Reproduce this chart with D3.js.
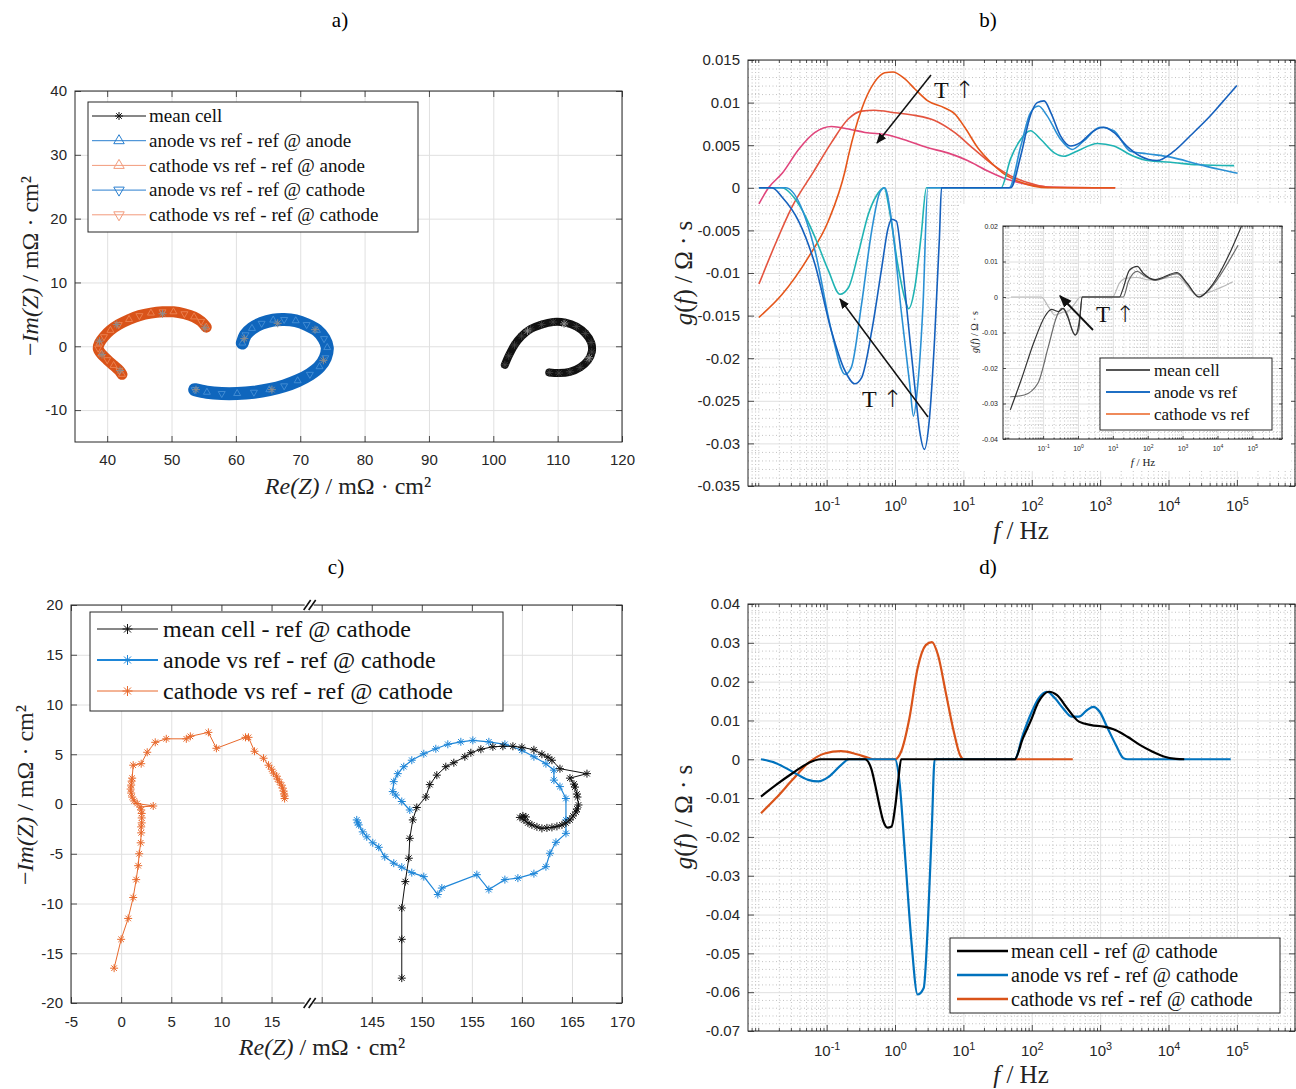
<!DOCTYPE html>
<html>
<head>
<meta charset="utf-8">
<script src="https://cdn.jsdelivr.net/npm/d3@7"></script>
<style>
body { margin: 0; background: #fff; }
</style>
</head>
<body>
<div id="chart"></div>
<script>
// ---------- panel a: Nyquist arcs (Re, -Im) in mOhm cm2 ----------
var aCathode = [[55.4,3.0],[54.6,3.9],[53.5,4.6],[52.0,5.1],[50.3,5.4],[48.6,5.4],[46.8,5.2],[45.0,4.8],[43.4,4.2],[41.8,3.4],[40.5,2.5],[39.5,1.5],[38.8,0.5],[38.6,-0.3],[39.1,-1.2],[40.0,-2.1],[41.0,-3.0],[41.9,-3.8],[42.3,-4.4]];
var aAnode = [[61.0,0.5],[61.5,1.8],[62.5,2.8],[64.0,3.6],[65.8,4.1],[67.5,4.2],[69.3,4.0],[71.0,3.4],[72.6,2.5],[73.7,1.2],[74.2,-0.2],[73.9,-1.8],[73.0,-3.2],[71.5,-4.4],[69.6,-5.4],[67.5,-6.2],[65.2,-6.8],[62.8,-7.2],[60.2,-7.4],[57.8,-7.4],[55.5,-7.2],[53.6,-6.8]];
var aMean = [[101.8,-2.9],[102.4,-1.5],[103.3,0.2],[104.4,1.6],[105.8,2.7],[107.5,3.4],[109.3,3.8],[111.2,3.7],[112.9,3.1],[114.3,2.0],[115.2,0.6],[115.3,-0.9],[114.7,-2.2],[113.5,-3.3],[111.9,-4.0],[110.2,-4.2],[108.7,-4.1]];
var aStars = [[55.2,2.9],[48.6,5.1],[41.5,3.4],[38.8,0.8],[39.2,-1.3],[42.0,-3.8],[61.3,1.2],[66.5,3.6],[72.3,2.6],[73.6,-2.2],[65.6,-6.8],[53.8,-6.8],[105.3,2.4],[111.0,3.5],[114.9,-1.8]];
var aXTicks = [40,50,60,70,80,90,100,110,120];
var aYTicks = [-10,0,10,20,30,40];
var aLegend = ["mean cell","anode vs ref - ref @ anode","cathode vs ref - ref @ anode","anode vs ref - ref @ cathode","cathode vs ref - ref @ cathode"];

// ---------- panel b: DRT, log10(f) and g(f) ----------
var bOrangeF = [-1.99,-1.65,-1.27,-0.975,-0.73,-0.68,-0.49,-0.3,-0.15,-0.03,0.14,0.29,0.48,0.72,0.87,1.02,1.21,1.4,1.6,1.79,2.03,2.23,3.22];
var bOrangeG = [-0.0152,-0.0125,-0.0082,-0.0039,0.002,0.0038,0.0092,0.0124,0.0135,0.0136,0.0128,0.0116,0.0102,0.0094,0.0087,0.0071,0.0047,0.003,0.0016,0.0008,0.0002,0,0];
var bRedF = [-1.99,-1.75,-1.51,-1.19,-0.93,-0.68,-0.49,-0.3,0,0.29,0.58,0.87,1.16,1.45,1.74,2.03,2.23,3.22];
var bRedG = [-0.0113,-0.0066,-0.0023,0.0019,0.0053,0.0081,0.009,0.0091,0.0088,0.0085,0.0079,0.0065,0.0045,0.0026,0.0012,0.0004,0.0001,0];
var bPinkF = [-1.99,-1.85,-1.65,-1.41,-1.17,-0.93,-0.68,-0.44,-0.1,0.19,0.48,0.77,1.06,1.35,1.64,1.94,2.23,3.22];
var bPinkG = [-0.0019,0,0.0017,0.0045,0.0065,0.0072,0.0069,0.0065,0.0062,0.0055,0.0047,0.0041,0.0032,0.002,0.001,0.0004,0.0001,0];
var bTealF = [-1.99,-1.66,-1.41,-1.17,-0.975,-0.805,-0.68,-0.54,-0.39,-0.27,-0.16,-0.08,0.04,0.14,0.2,0.29,0.38,0.46,1.55,1.69,1.84,1.98,2.13,2.33,2.47,2.66,2.96,3.2,3.49,3.69,4.03,4.42,4.96];
var bTealG = [0,0,-0.0019,-0.0058,-0.0097,-0.0125,-0.0117,-0.0078,-0.0031,-0.0009,0,-0.0027,-0.009,-0.0129,-0.0142,-0.0117,-0.0058,0,0,0.0034,0.0057,0.0067,0.0057,0.0041,0.0037,0.0043,0.0052,0.0049,0.0037,0.0032,0.003,0.0027,0.0026];
var bBlueF = [-1.99,-1.6,-1.17,-0.93,-0.73,-0.64,-0.49,-0.34,-0.22,-0.15,-0.05,0.09,0.22,0.27,0.33,0.41,0.48,1.67,1.84,1.98,2.1,2.22,2.42,2.59,2.76,3.0,3.2,3.44,3.68,4.03,4.42,4.72,5.01];
var bBlueG = [0,0,-0.0074,-0.0168,-0.0219,-0.0211,-0.0137,-0.005,-0.0005,0,-0.0039,-0.0144,-0.0234,-0.0268,-0.0234,-0.0137,0,0,0.0049,0.0088,0.0096,0.0085,0.0057,0.0045,0.0055,0.0071,0.0067,0.0043,0.004,0.0036,0.0028,0.0022,0.0017];
var bDarkF = [-1.99,-1.8,-1.65,-1.41,-1.17,-0.93,-0.73,-0.59,-0.49,-0.34,-0.2,-0.1,-0.05,0.02,0.09,0.19,0.29,0.36,0.43,0.5,0.58,0.65,0.68,1.69,1.84,1.98,2.08,2.18,2.28,2.42,2.57,2.71,2.91,3.05,3.2,3.39,3.59,3.83,4.08,4.33,4.57,4.75,5.0];
var bDarkG = [0,0,-0.0011,-0.0039,-0.009,-0.0168,-0.0215,-0.023,-0.0223,-0.0168,-0.0097,-0.0047,-0.0037,-0.0039,-0.0078,-0.0156,-0.0234,-0.0285,-0.0307,-0.0274,-0.0176,-0.0058,0,0,0.0038,0.0085,0.01,0.0102,0.0088,0.0061,0.0049,0.0053,0.0067,0.0071,0.0065,0.0049,0.0037,0.0032,0.0043,0.0062,0.0081,0.0097,0.012];
var bYTicks = [-0.035,-0.03,-0.025,-0.02,-0.015,-0.01,-0.005,0,0.005,0.01,0.015];

// inset of panel b
var iLightF = [-1.92,-1.05,-0.85,-0.66,-0.47,-0.27,-0.1,0.07,0.99,1.19,1.38,1.67,2.06,2.84,3.42,4.1,4.44];
var iLightG = [0,0,-0.0027,-0.0051,-0.0044,-0.0039,-0.002,0,0,0.0039,0.0053,0.0055,0.0048,0.0057,0.0006,0.0027,0.0043];
var iDarkAF = [-1.94,-1.63,-1.24,-0.95,-0.76,-0.56,-0.42,-0.3,-0.08,0.05,0.12,1.19,1.28,1.48,1.7,1.87,2.21,2.84,3.13,3.47,3.81,4.0,4.39,4.69];
var iDarkAG = [-0.0318,-0.0234,-0.0121,-0.0055,-0.0035,-0.0041,-0.0032,-0.0055,-0.0107,-0.006,0,0,0.002,0.0076,0.0086,0.0067,0.0049,0.0069,0.0039,0,0.0029,0.0057,0.0132,0.02];
var iDarkBF = [-1.94,-1.54,-1.15,-0.85,-0.61,-0.47,-0.32,-0.17,-0.08,0.02,0.12,1.3,1.45,1.7,1.9,2.21,2.84,3.13,3.47,3.81,4.0,4.59];
var iDarkBG = [-0.0281,-0.0276,-0.0243,-0.014,-0.0055,-0.0032,-0.0046,-0.0093,-0.0107,-0.0093,0,0,0.0045,0.0072,0.006,0.0047,0.0066,0.0037,0,0.0026,0.005,0.0146];
var iYTicks = [-0.04,-0.03,-0.02,-0.01,0,0.01,0.02];
var iLegend = ["mean cell","anode vs ref","cathode vs ref"];

// ---------- panel c: Nyquist, broken Re axis ----------
var cCathode = [[-0.7,-16.5],[0.0,-13.6],[0.7,-11.5],[1.2,-9.4],[1.5,-7.6],[1.7,-6.2],[1.8,-5.0],[1.95,-3.9],[2.0,-2.9],[2.0,-2.3],[2.05,-1.9],[2.05,-1.4],[2.05,-0.95],[2.0,-0.6],[1.9,-0.3],[3.2,-0.2],[1.6,0.05],[1.3,0.3],[1.1,0.7],[1.0,1.1],[0.95,1.5],[1.0,1.9],[1.05,2.3],[1.1,2.6],[1.2,3.9],[2.0,4.05],[2.6,5.2],[3.4,6.2],[4.5,6.55],[6.5,6.55],[6.9,6.8],[8.7,7.2],[9.5,5.6],[12.4,6.7],[12.7,6.7],[13.3,5.3],[14.2,4.6],[14.7,3.9],[15.0,3.5],[15.2,3.1],[15.5,2.8],[15.6,2.5],[15.8,2.2],[16.0,1.9],[16.1,1.6],[16.2,1.3],[16.25,1.0],[16.3,0.8],[16.3,0.55]];
var cMean = [[148.0,-17.5],[148.0,-13.6],[148.0,-10.45],[148.35,-7.8],[148.7,-5.45],[148.8,-3.45],[149.1,-1.6],[149.5,-0.35],[150.4,0.7],[150.8,1.95],[151.5,2.9],[152.4,3.75],[153.2,4.15],[154.3,4.75],[154.9,5.15],[155.9,5.5],[157.1,5.75],[158.1,5.8],[159.1,5.8],[160.0,5.7],[161.2,5.45],[162.0,5.0],[162.6,4.7],[163.0,4.4],[163.8,3.55],[166.5,3.05],[164.8,2.6],[165.2,2.0],[165.3,1.7],[165.5,1.0],[165.55,0.7],[165.65,-0.1],[165.5,-0.5],[165.4,-0.8],[165.1,-1.2],[164.8,-1.6],[164.4,-1.9],[164.0,-2.1],[163.5,-2.25],[163.0,-2.35],[162.5,-2.4],[162.0,-2.45],[161.5,-2.3],[161.0,-2.1],[160.6,-1.9],[160.2,-1.6],[159.8,-1.35],[160.1,-1.2],[160.4,-1.3]];
var cAnode = [[143.5,-1.6],[143.6,-1.9],[143.7,-2.1],[144.1,-2.8],[144.5,-3.3],[145.1,-3.9],[145.7,-4.35],[146.3,-5.3],[147.2,-5.95],[148.0,-6.35],[149.0,-6.9],[150.2,-7.3],[151.6,-9.1],[152.0,-8.45],[155.5,-7.1],[156.7,-8.6],[158.3,-7.6],[159.6,-7.45],[161.2,-7.0],[162.4,-6.3],[162.8,-4.95],[163.4,-3.85],[164.4,-2.95],[164.4,-1.6],[164.4,0.55],[163.8,1.75],[163.2,2.4],[163.2,3.4],[162.4,4.05],[161.2,4.75],[160.0,5.4],[158.3,6.0],[156.7,6.25],[155.1,6.4],[153.9,6.25],[152.6,6.0],[151.4,5.55],[150.2,5.05],[149.0,4.4],[148.2,3.75],[147.6,3.05],[147.2,2.25],[147.1,1.25],[147.4,0.9],[148.0,0.25],[148.8,-0.6]];
var cXTicks = [-5,0,5,10,15,20,145,150,155,160,165,170];
var cYTicks = [-20,-15,-10,-5,0,5,10,15,20];
var cLegend = ["mean cell - ref @ cathode","anode vs ref - ref @ cathode","cathode vs ref - ref @ cathode"];

// ---------- panel d: DRT ----------
var dMeanF = [-1.96,-1.74,-1.5,-1.27,-1.09,-0.44,-0.35,-0.29,-0.23,-0.17,-0.11,-0.05,0.0,0.05,0.09,1.75,1.87,1.98,2.1,2.25,2.37,2.52,2.69,2.87,3.05,3.23,3.4,3.58,3.76,3.93,4.11,4.23];
var dMeanG = [-0.0096,-0.0066,-0.0036,-0.001,0,0,-0.0023,-0.0066,-0.0117,-0.016,-0.0176,-0.0173,-0.0126,-0.005,0,0,0.0054,0.0097,0.0148,0.0174,0.0165,0.0131,0.0097,0.0088,0.0084,0.0075,0.0058,0.0037,0.002,0.0007,0.0001,0];
var dAnodeF = [-1.96,-1.74,-1.5,-1.27,-1.12,-0.97,-0.79,-0.67,0.0,0.06,0.15,0.24,0.33,0.42,0.48,0.54,0.58,1.75,1.87,1.98,2.1,2.22,2.34,2.46,2.58,2.69,2.81,2.9,2.99,3.11,3.23,3.34,3.4,4.91];
var dAnodeG = [0,-0.001,-0.0032,-0.0053,-0.0057,-0.0045,-0.0015,0,0,-0.0049,-0.0255,-0.0469,-0.0606,-0.0589,-0.0426,-0.0169,0,0,0.0063,0.0114,0.0157,0.0174,0.0157,0.0131,0.011,0.011,0.0127,0.0135,0.0123,0.008,0.0037,0.0003,0,0];
var dCathodeF = [-1.96,-1.74,-1.5,-1.27,-1.03,-0.79,-0.56,-0.38,-0.32,0.0,0.09,0.21,0.33,0.45,0.54,0.63,0.74,0.86,0.95,1.01,2.6];
var dCathodeG = [-0.0139,-0.01,-0.0053,-0.001,0.0015,0.0021,0.0013,0.0003,0,0,0.002,0.0105,0.0234,0.0294,0.0302,0.0268,0.0174,0.0071,0.0011,0,0];
var dYTicks = [-0.07,-0.06,-0.05,-0.04,-0.03,-0.02,-0.01,0,0.01,0.02,0.03,0.04];
var dLegend = ["mean cell - ref @ cathode","anode vs ref - ref @ cathode","cathode vs ref - ref @ cathode"];

var logTicks = [-1,0,1,2,3,4,5];

// ---------------------------------------------------------------
var W = 1296, H = 1089;
var serif = '"Liberation Serif","DejaVu Serif",serif';
var sans = '"Liberation Sans",Arial,sans-serif';
var AX = "#262626", GRID = "#e0e0e0", MINOR = "#c2c2c2";

var svg = d3.select("#chart").append("svg").attr("width", W).attr("height", H);
svg.append("rect").attr("width", W).attr("height", H).attr("fill", "#fff");

function fmt(v) { return String(+v.toFixed(4)); }
function zip(f, g) { return f.map(function(v, i) { return [Math.pow(10, v), g[i]]; }); }

function star(r) {
    var a = r * 0.7;
    return "M0," + (-r) + "V" + r + "M" + (-r) + ",0H" + r +
        "M" + (-a) + "," + (-a) + "L" + a + "," + a + "M" + (-a) + "," + a + "L" + a + "," + (-a);
}
function tri(r, down) {
    var s = down ? -1 : 1;
    return "M0," + (-r * s) + "L" + (r * 0.87) + "," + (r * 0.5 * s) + "L" + (-r * 0.87) + "," + (r * 0.5 * s) + "Z";
}

function minorLog(lo, hi) {
    var out = [];
    for (var n = -3; n <= 6; n++) for (var k = 1; k <= 9; k++) {
        var v = k * Math.pow(10, n);
        if (k === 1 && n >= -1) continue;
        if (v > lo && v < hi) out.push(v);
    }
    return out;
}
function minorLin(ticks, step) {
    var out = [], lo = d3.min(ticks), hi = d3.max(ticks);
    for (var v = lo; v < hi - 1e-9; v += step) {
        for (var j = 1; j < 5; j++) out.push(+(v + j * step / 5).toFixed(6));
    }
    return out;
}

// grid, inward ticks on 4 sides, labels and box
function frame(g, x, y, o) {
    var xr = x.range(), yr = y.range();
    var X0 = xr[0], X1 = xr[xr.length - 1], Y1 = yr[0], Y0 = yr[yr.length - 1];
    var w = X1 - X0, h = Y1 - Y0;
    function clean(sel) { sel.select(".domain").remove(); }

    if (o.xMinor) g.append("g").attr("transform", "translate(0," + Y1 + ")")
        .call(d3.axisBottom(x).tickValues(o.xMinor).tickSize(-h).tickFormat(""))
        .call(clean).selectAll("line").attr("stroke", MINOR).attr("stroke-dasharray", "1,2.5");
    if (o.yMinor) g.append("g").attr("transform", "translate(" + X0 + ",0)")
        .call(d3.axisLeft(y).tickValues(o.yMinor).tickSize(-w).tickFormat(""))
        .call(clean).selectAll("line").attr("stroke", MINOR).attr("stroke-dasharray", "1,2.5");
    g.append("g").attr("transform", "translate(0," + Y1 + ")")
        .call(d3.axisBottom(x).tickValues(o.xMajor).tickSize(-h).tickFormat(""))
        .call(clean).selectAll("line").attr("stroke", GRID);
    g.append("g").attr("transform", "translate(" + X0 + ",0)")
        .call(d3.axisLeft(y).tickValues(o.yMajor).tickSize(-w).tickFormat(""))
        .call(clean).selectAll("line").attr("stroke", GRID);

    var tl = o.tl || 6;
    var ax = g.append("g");
    var bottom = ax.append("g").attr("transform", "translate(0," + Y1 + ")")
        .call(d3.axisBottom(x).tickValues(o.xMajor).tickSize(-tl).tickPadding(o.xPad).tickFormat(o.xFmt));
    ax.append("g").attr("transform", "translate(0," + Y0 + ")")
        .call(d3.axisTop(x).tickValues(o.xMajor).tickSize(-tl).tickFormat(""));
    ax.append("g").attr("transform", "translate(" + X0 + ",0)")
        .call(d3.axisLeft(y).tickValues(o.yMajor).tickSize(-tl).tickPadding(o.yPad).tickFormat(o.yFmt));
    ax.append("g").attr("transform", "translate(" + X1 + ",0)")
        .call(d3.axisRight(y).tickValues(o.yMajor).tickSize(-tl).tickFormat(""));
    if (o.xMinor) {
        ax.append("g").attr("transform", "translate(0," + Y1 + ")")
            .call(d3.axisBottom(x).tickValues(o.xMinor).tickSize(-tl / 2).tickFormat(""));
        ax.append("g").attr("transform", "translate(0," + Y0 + ")")
            .call(d3.axisTop(x).tickValues(o.xMinor).tickSize(-tl / 2).tickFormat(""));
    }
    ax.selectAll(".domain").remove();
    ax.selectAll("line").attr("stroke", AX).attr("stroke-width", 0.8);
    ax.selectAll("text").attr("fill", AX).attr("font-family", sans).attr("font-size", o.fs);
    if (o.logLabels) {
        bottom.selectAll(".tick text").each(function(d) {
            var t = d3.select(this);
            t.text("10");
            t.append("tspan").attr("dy", "-0.55em").attr("font-size", (o.fs * 0.72) + "px")
                .text(Math.round(Math.log10(d)));
        });
    }
    g.append("rect").attr("x", X0).attr("y", Y0).attr("width", w).attr("height", h)
        .attr("fill", "none").attr("stroke", AX).attr("stroke-width", 1);
}

function rich(g, x, y, parts, fs, rot) {
    var t = g.append("text").attr("text-anchor", "middle").attr("font-family", serif)
        .attr("font-size", fs).attr("fill", "#222")
        .attr("transform", "translate(" + x + "," + y + ")" + (rot ? " rotate(-90)" : ""));
    parts.forEach(function(p) {
        t.append("tspan").attr("font-style", p[1] ? "italic" : "normal").text(p[0]);
    });
}

// "T" followed by an up arrow, the arrow glyph forced to a plain text font
function tUp(g, x, y, fs) {
    var t = g.append("text").attr("x", x).attr("y", y).attr("font-family", serif)
        .attr("font-size", fs).attr("fill", "#111");
    t.append("tspan").text("T ");
    t.append("tspan").attr("font-family", '"DejaVu Sans"').attr("font-weight", 200)
        .attr("fill", "#111").text("\u2191\uFE0E");
}

function legend(g, rect, items, o) {
    g.append("rect").attr("x", rect[0]).attr("y", rect[1]).attr("width", rect[2]).attr("height", rect[3])
        .attr("fill", "#fff").attr("stroke", AX).attr("stroke-width", 1);
    items.forEach(function(it, i) {
        var yy = o.y0 + i * o.dy;
        g.append("line").attr("x1", o.l0).attr("x2", o.l1).attr("y1", yy).attr("y2", yy)
            .attr("stroke", it.color).attr("stroke-width", it.w || 1);
        if (it.marker) g.append("path").attr("d", it.marker)
            .attr("transform", "translate(" + ((o.l0 + o.l1) / 2) + "," + yy + ")")
            .attr("fill", "none").attr("stroke", it.color).attr("stroke-width", 1);
        g.append("text").attr("x", o.tx).attr("y", yy).attr("dy", "0.33em")
            .attr("font-family", serif).attr("font-size", o.fs).attr("fill", "#111").text(it.label);
    });
}

var defs = svg.append("defs");
defs.append("marker").attr("id", "head").attr("viewBox", "0 0 10 10").attr("refX", 9).attr("refY", 5)
    .attr("markerWidth", 7).attr("markerHeight", 7).attr("orient", "auto")
    .append("path").attr("d", "M0,1 L10,5 L0,9 Z").attr("fill", "#111");

function arrow(g, x1, y1, x2, y2, wdt) {
    g.append("line").attr("x1", x1).attr("y1", y1).attr("x2", x2).attr("y2", y2)
        .attr("stroke", "#111").attr("stroke-width", wdt).attr("marker-end", "url(#head)");
}

// titles
[["a)", 340], ["b)", 988]].forEach(function(t) {
    svg.append("text").attr("x", t[1]).attr("y", 27).attr("text-anchor", "middle")
        .attr("font-family", serif).attr("font-size", 21).text(t[0]);
});
[["c)", 336], ["d)", 988]].forEach(function(t) {
    svg.append("text").attr("x", t[1]).attr("y", 574).attr("text-anchor", "middle")
        .attr("font-family", serif).attr("font-size", 21).text(t[0]);
});

// ================= panel a =================
var ga = svg.append("g");
var xa = d3.scaleLinear().domain([35, 120]).range([75, 622]);
var ya = d3.scaleLinear().domain([-15, 40]).range([442, 91]);
frame(ga, xa, ya, { xMajor: aXTicks, yMajor: aYTicks, xFmt: fmt, yFmt: fmt, xPad: 12, yPad: 8, fs: 15 });

var bandLine = d3.line().x(function(d) { return xa(d[0]); }).y(function(d) { return ya(d[1]); })
    .curve(d3.curveCatmullRom.alpha(0.5));
[[aCathode, "#D95319", "#ef8a5a", 11, "tri"], [aAnode, "#0f66bd", "#4d94d8", 13, "tri"], [aMean, "#111", "#444", 8, "star"]]
    .forEach(function(s) {
        ga.append("path").attr("d", bandLine(s[0])).attr("fill", "none").attr("stroke", s[1])
            .attr("stroke-width", s[3]).attr("stroke-linecap", "round").attr("stroke-linejoin", "round");
        ga.selectAll(null).data(s[0]).enter().append("path")
            .attr("d", function(d, i) { return s[4] === "star" ? star(4) : tri(4, i % 2 === 1); })
            .attr("transform", function(d) { return "translate(" + xa(d[0]) + "," + ya(d[1]) + ")"; })
            .attr("fill", "none").attr("stroke", s[2]).attr("stroke-width", 0.8);
    });
ga.selectAll(null).data(aStars).enter().append("path")
    .attr("d", star(4))
    .attr("transform", function(d) { return "translate(" + xa(d[0]) + "," + ya(d[1]) + ")"; })
    .attr("fill", "none").attr("stroke", "#8c8c8c").attr("stroke-width", 1);

legend(ga, [88, 102, 330, 130], [
    { label: aLegend[0], color: "#111", marker: star(4) },
    { label: aLegend[1], color: "#2a7fcf", marker: tri(6, false) },
    { label: aLegend[2], color: "#f29b7c", marker: tri(6, false) },
    { label: aLegend[3], color: "#2a7fcf", marker: tri(6, true) },
    { label: aLegend[4], color: "#f29b7c", marker: tri(6, true) }
], { y0: 116, dy: 24.7, l0: 92, l1: 146, tx: 149, fs: 19 });

rich(ga, 348, 494, [["Re(Z)", true], [" / mΩ · cm²", false]], 24);
rich(ga, 38, 266, [["−", false], ["Im(Z)", true], [" / mΩ · cm²", false]], 24, true);

// ================= panel b =================
var gb = svg.append("g");
var xb = d3.scaleLog().domain([Math.pow(10, -2.15), Math.pow(10, 5.85)]).range([748, 1295]);
var yb = d3.scaleLinear().domain([-0.035, 0.015]).range([486, 60]);
var majorF = logTicks.map(function(v) { return Math.pow(10, v); });
frame(gb, xb, yb, {
    xMajor: majorF, xMinor: minorLog(xb.domain()[0], xb.domain()[1]),
    yMajor: bYTicks, yMinor: minorLin(bYTicks, 0.005),
    xFmt: function(d) { return d; }, yFmt: fmt, xPad: 14, yPad: 8, fs: 15, logLabels: true
});
var lineB = d3.line().x(function(d) { return xb(d[0]); }).y(function(d) { return yb(d[1]); })
    .curve(d3.curveMonotoneX);
[[bPinkF, bPinkG, "#e0457c"], [bRedF, bRedG, "#e4543f"], [bOrangeF, bOrangeG, "#e5561a"],
 [bTealF, bTealG, "#1fb3b3"], [bBlueF, bBlueG, "#2a90d4"], [bDarkF, bDarkG, "#1560bd"]]
    .forEach(function(s) {
        gb.append("path").attr("d", lineB(zip(s[0], s[1]))).attr("fill", "none")
            .attr("stroke", s[2]).attr("stroke-width", 1.6);
    });
arrow(gb, 931, 75, 877, 143, 1.5);
arrow(gb, 928, 417, 840, 299, 1.5);
tUp(gb, 934, 98, 24);
tUp(gb, 862, 407, 24);

rich(gb, 1021, 539, [["f", true], [" / Hz", false]], 25);
rich(gb, 692, 273, [["g", true], ["(", false], ["f", true], [") / Ω · s", false]], 25, true);

// inset
var gi = svg.append("g");
gi.append("rect").attr("x", 960).attr("y", 204).attr("width", 331).attr("height", 267).attr("fill", "#fff");
var xi = d3.scaleLog().domain(xb.domain()).range([1003, 1282]);
var yi = d3.scaleLinear().domain([-0.04, 0.02]).range([439, 226]);
frame(gi, xi, yi, {
    xMajor: majorF, xMinor: minorLog(xi.domain()[0], xi.domain()[1]),
    yMajor: iYTicks, yMinor: minorLin(iYTicks, 0.01),
    xFmt: function(d) { return d; }, yFmt: fmt, xPad: 7, yPad: 5, fs: 7, tl: 3, logLabels: true
});
var lineI = d3.line().x(function(d) { return xi(d[0]); }).y(function(d) { return yi(d[1]); })
    .curve(d3.curveMonotoneX);
[[iLightF, iLightG, "#b8b8b8"], [iDarkBF, iDarkBG, "#6a6a6a"], [iDarkAF, iDarkAG, "#333"]]
    .forEach(function(s) {
        gi.append("path").attr("d", lineI(zip(s[0], s[1]))).attr("fill", "none")
            .attr("stroke", s[2]).attr("stroke-width", 1.2);
    });
arrow(gi, 1093, 330, 1060, 296, 1.8);
tUp(gi, 1096, 322, 23);
legend(gi, [1100, 358, 172, 72], [
    { label: iLegend[0], color: "#555", w: 2 },
    { label: iLegend[1], color: "#1f6fc4", w: 2 },
    { label: iLegend[2], color: "#ef8a5a", w: 2 }
], { y0: 370, dy: 22, l0: 1106, l1: 1150, tx: 1154, fs: 17 });
rich(gi, 1143, 466, [["f", true], [" / Hz", false]], 11);
rich(gi, 978, 332, [["g", true], ["(", false], ["f", true], [") / Ω · s", false]], 10, true);

// ================= panel c =================
var gc = svg.append("g");
var xc = d3.scaleLinear().domain([-5, 20, 140, 170]).range([71, 321.7, 321.7, 622]);
var yc = d3.scaleLinear().domain([-20, 20]).range([1003, 605]);
frame(gc, xc, yc, {
    xMajor: cXTicks, yMajor: cYTicks,
    xFmt: function(d) { return d === 20 ? "" : fmt(d); }, yFmt: fmt, xPad: 13, yPad: 8, fs: 15
});
var lineC = d3.line().x(function(d) { return xc(d[0]); }).y(function(d) { return yc(d[1]); });
[[cCathode, "#e8692c", 1], [cAnode, "#1e86d8", 1.2], [cMean, "#111", 1]].forEach(function(s) {
    gc.append("path").attr("d", lineC(s[0])).attr("fill", "none").attr("stroke", s[1]).attr("stroke-width", s[2]);
    gc.selectAll(null).data(s[0]).enter().append("path").attr("d", star(4))
        .attr("transform", function(d) { return "translate(" + xc(d[0]) + "," + yc(d[1]) + ")"; })
        .attr("fill", "none").attr("stroke", s[1]).attr("stroke-width", 1);
});
// axis break marks
[605, 1003].forEach(function(yy) {
    var bx = xc(18.8);
    gc.append("rect").attr("x", bx - 5).attr("y", yy - 1.5).attr("width", 9).attr("height", 3).attr("fill", "#fff");
    [-2.5, 2.5].forEach(function(dx) {
        gc.append("line").attr("x1", bx + dx - 3.5).attr("y1", yy + 5).attr("x2", bx + dx + 3.5).attr("y2", yy - 5)
            .attr("stroke", "#111").attr("stroke-width", 1.6);
    });
});
legend(gc, [90, 612, 413, 99], [
    { label: cLegend[0], color: "#111", marker: star(5) },
    { label: cLegend[1], color: "#1e86d8", w: 2, marker: star(5) },
    { label: cLegend[2], color: "#e8692c", marker: star(5) }
], { y0: 629, dy: 31, l0: 97, l1: 158, tx: 163, fs: 24 });
rich(gc, 322, 1055, [["Re(Z)", true], [" / mΩ · cm²", false]], 24);
rich(gc, 33, 795, [["−", false], ["Im(Z)", true], [" / mΩ · cm²", false]], 24, true);

// ================= panel d =================
var gd = svg.append("g");
var xd = d3.scaleLog().domain(xb.domain()).range([748, 1295]);
var yd = d3.scaleLinear().domain([-0.07, 0.04]).range([1031, 604]);
frame(gd, xd, yd, {
    xMajor: majorF, xMinor: minorLog(xd.domain()[0], xd.domain()[1]),
    yMajor: dYTicks, yMinor: minorLin(dYTicks, 0.01),
    xFmt: function(d) { return d; }, yFmt: fmt, xPad: 14, yPad: 8, fs: 15, logLabels: true
});
var lineD = d3.line().x(function(d) { return xd(d[0]); }).y(function(d) { return yd(d[1]); })
    .curve(d3.curveMonotoneX);
[[dCathodeF, dCathodeG, "#d95319"], [dAnodeF, dAnodeG, "#0072bd"], [dMeanF, dMeanG, "#000"]]
    .forEach(function(s) {
        gd.append("path").attr("d", lineD(zip(s[0], s[1]))).attr("fill", "none")
            .attr("stroke", s[2]).attr("stroke-width", 2.2);
    });
legend(gd, [950, 938, 330, 75], [
    { label: dLegend[0], color: "#000", w: 2.5 },
    { label: dLegend[1], color: "#0072bd", w: 2.5 },
    { label: dLegend[2], color: "#d95319", w: 2.5 }
], { y0: 951, dy: 24, l0: 957, l1: 1008, tx: 1011, fs: 20 });
rich(gd, 1021, 1083, [["f", true], [" / Hz", false]], 25);
rich(gd, 692, 817, [["g", true], ["(", false], ["f", true], [") / Ω · s", false]], 25, true);
</script>
</body>
</html>
